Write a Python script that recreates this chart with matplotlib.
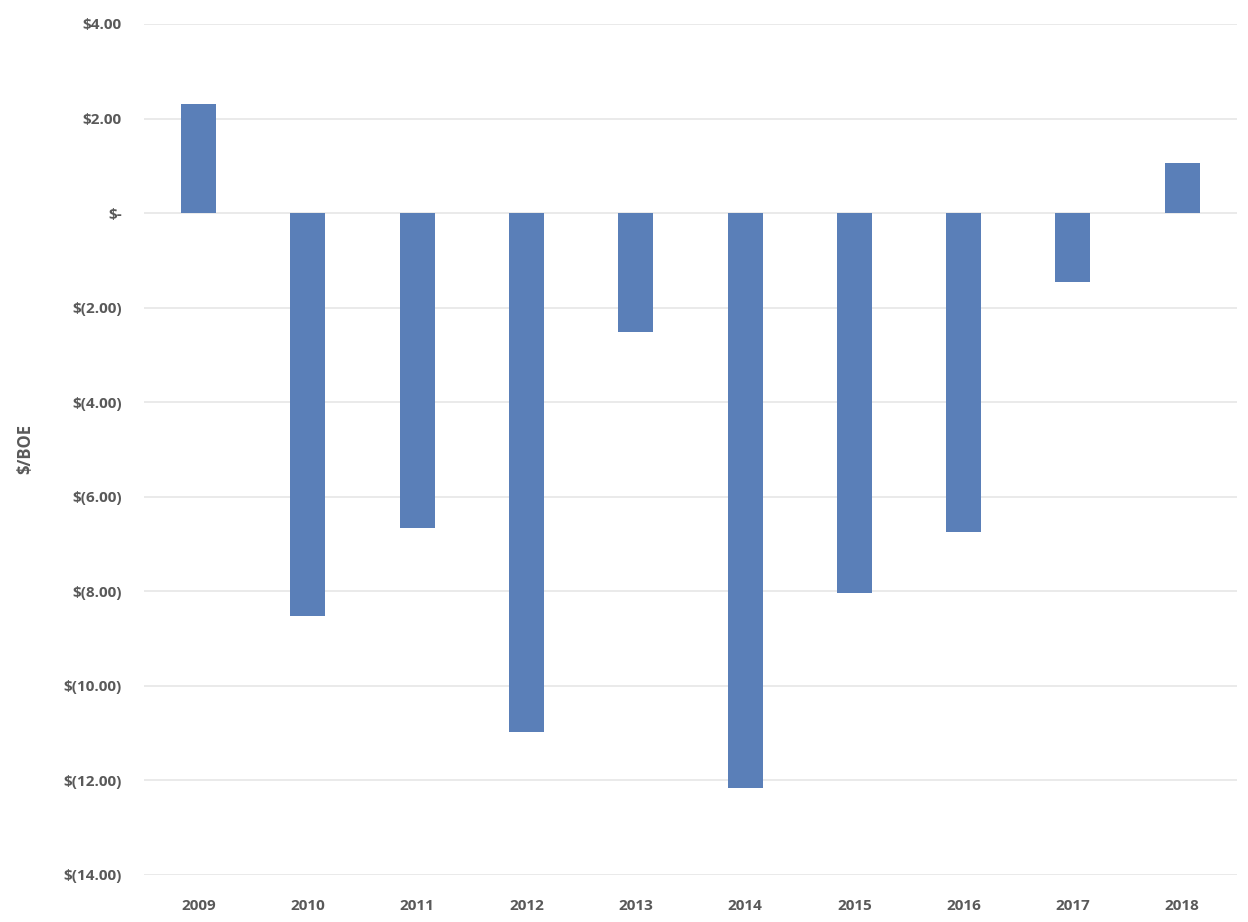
import matplotlib
matplotlib.use('Agg')
import matplotlib.pyplot as plt
from matplotlib.ticker import FuncFormatter

years = ['2009', '2010', '2011', '2012', '2013', '2014', '2015', '2016', '2017', '2018']
values = [2.30, -8.52, -6.66, -10.97, -2.52, -12.16, -8.03, -6.74, -1.46, 1.06]

plt.rcParams['font.family'] = ['Open Sans', 'DejaVu Sans']

fig = plt.figure(figsize=(12.48, 9.22), dpi=100)
ax = fig.add_axes([0.1154, 0.051, 0.8756, 0.923])

x = range(len(years))
ax.bar(x, values, width=0.32, color='#5A7FB8', zorder=3)

def money(v, pos):
    if abs(v) < 1e-9:
        return '$-'
    if v < 0:
        return '$({:.2f})'.format(-v)
    return '${:.2f}'.format(v)

ax.set_ylim(-14, 4)
ax.set_xlim(-0.5, len(years) - 0.5)
ax.set_yticks(range(-14, 5, 2))
ax.yaxis.set_major_formatter(FuncFormatter(money))
ax.set_xticks(list(x))
ax.set_xticklabels(years)

ax.grid(axis='y', color='#E6E6E6', linewidth=1.2, zorder=0)
for s in ax.spines.values():
    s.set_visible(False)
ax.tick_params(length=0, labelsize=11, labelcolor='#595959')
for lbl in ax.get_xticklabels() + ax.get_yticklabels():
    lbl.set_fontweight('bold')
ax.tick_params(axis='x', pad=17)
ax.tick_params(axis='y', pad=16)

ax.set_ylabel('$/BOE', fontsize=12, fontweight='bold', color='#595959', labelpad=21)

fig.savefig('out.png', dpi=100)
